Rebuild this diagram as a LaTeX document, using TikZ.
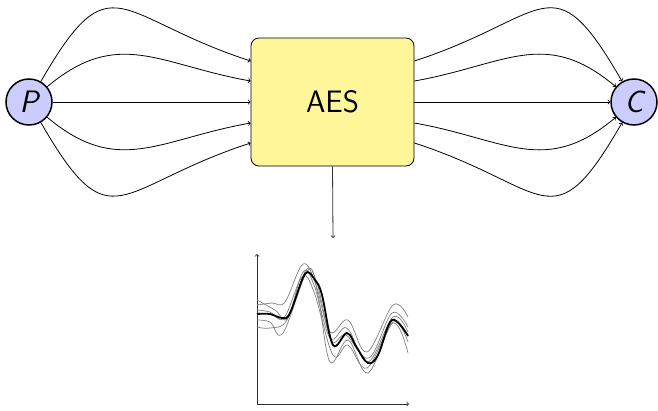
\documentclass[tikz,border=0pt]{standalone}
\usetikzlibrary{calc}
\definecolor{circfill}{RGB}{204,204,255}
\definecolor{boxfill}{RGB}{255,245,153}
\begin{document}
\begin{tikzpicture}[x=1pt,y=1pt,
  circ/.style={circle,draw,line width=1.5pt,fill=circfill,minimum size=46pt,inner sep=0pt,font=\fontsize{31}{37}\selectfont\sffamily\slshape},
  aesbox/.style={draw,line width=0.8pt,rounded corners=8pt,fill=boxfill,minimum width=163pt,minimum height=128pt,inner sep=0pt,font=\fontsize{31}{37}\selectfont\sffamily},
  conn/.style={->,line width=0.8pt},
  axis/.style={->,line width=0.8pt,black!80},
  sample/.style={line width=0.7pt,black!50},
  mean/.style={line width=1.8pt,black}]
\useasboundingbox (0,0) rectangle (658,-410);
\node[circ] (P) at (29,-102) {P};
\node[circ] (C) at (634,-102) {C};
\node[aesbox] (aes) at (332.5,-102) {AES};
% left connectors
\draw[conn] (P.60) .. controls +(60:142) and +(162:142) .. ([yshift=41]aes.west);
\draw[conn] (P.40) .. controls +(40:93) and +(170:93) .. ([yshift=21]aes.west);
\draw[conn] (P) -- (aes);
\draw[conn] (P.-40) .. controls +(-40:93) and +(-170:93) .. ([yshift=-21]aes.west);
\draw[conn] (P.-60) .. controls +(-60:142) and +(-162:142) .. ([yshift=-41]aes.west);
% right connectors
\draw[conn] ([yshift=41]aes.east) .. controls +(18:142) and +(120:142) .. (C.120);
\draw[conn] ([yshift=21]aes.east) .. controls +(10:93) and +(140:93) .. (C.140);
\draw[conn] (aes) -- (C);
\draw[conn] ([yshift=-21]aes.east) .. controls +(-10:93) and +(-140:93) .. (C.-140);
\draw[conn] ([yshift=-41]aes.east) .. controls +(-18:142) and +(-120:142) .. (C.-120);
% down to plot
\coordinate (plottop) at (333,-238);
\draw[axis] (aes.south) -- (plottop);
% plot axes
\coordinate (O) at (257,-404);
\coordinate (ytop) at (257,-254);
\coordinate (xend) at (409,-404);
\draw[axis] (O) -- (ytop);
\draw[axis] (O) -- (xend);
% sample curves
\draw[sample] plot[smooth,tension=0.6] coordinates {(257,-305) (272,-303) (285,-302) (303,-264) (316,-285) (330,-332) (348,-320) (367,-352) (393,-305) (408,-317)};
\draw[sample] plot[smooth,tension=0.6] coordinates {(257,-320) (270,-322) (283,-333) (308,-270) (318,-295) (330,-362) (348,-340) (368,-373) (393,-323) (408,-353)};
\draw[sample] plot[smooth,tension=0.6] coordinates {(257,-327) (270,-328) (287,-320) (303,-272) (314,-285) (330,-338) (347,-328) (368,-362) (393,-317) (408,-332)};
\draw[sample] plot[smooth,tension=0.6] coordinates {(257,-310) (270,-312) (284,-318) (302,-277) (314,-292) (333,-355) (348,-345) (367,-368) (393,-322) (408,-342)};
\draw[sample] plot[smooth,tension=0.6] coordinates {(257,-300) (275,-310) (288,-318) (306,-270) (317,-283) (331,-340) (346,-335) (369,-358) (392,-313) (408,-327)};
% mean curve
\draw[mean] plot[smooth,tension=0.6] coordinates {(257,-314) (270,-314) (282,-318) (290,-313) (305,-274) (315,-280) (322,-295) (333,-345) (347,-333) (357,-348) (368,-363) (378,-355) (392,-320) (408,-336)};
\end{tikzpicture}
\end{document}
